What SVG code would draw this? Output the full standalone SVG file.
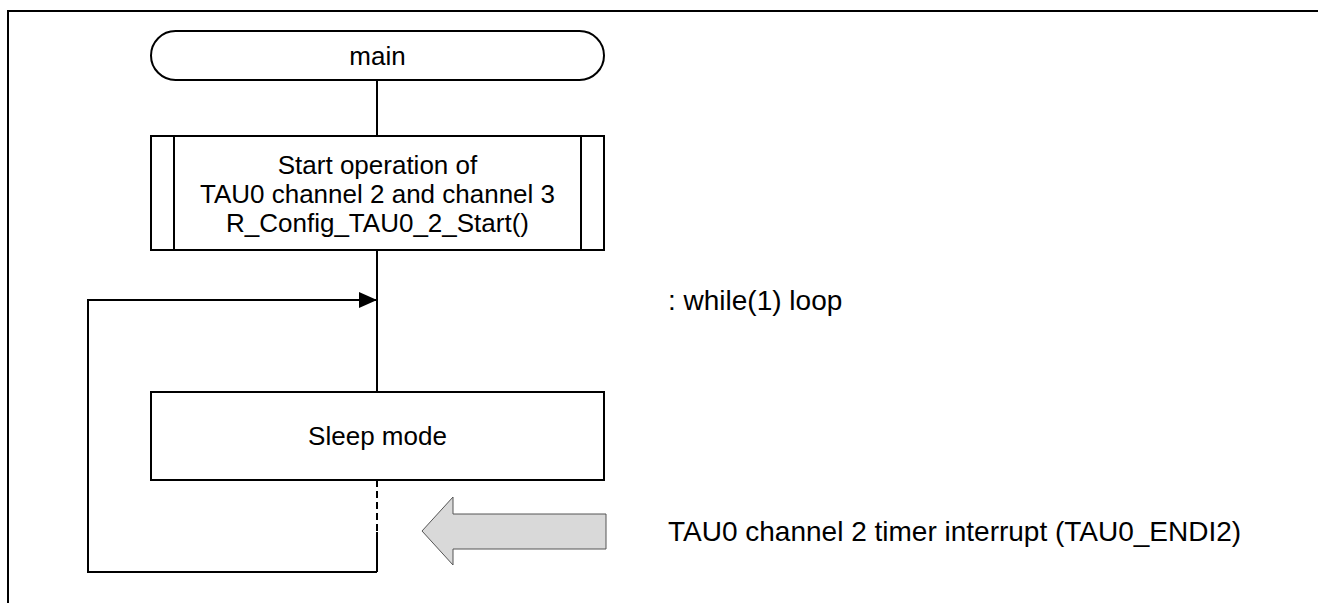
<svg xmlns="http://www.w3.org/2000/svg" width="1318" height="603" viewBox="0 0 1318 603">
<style>
.s{fill:#fff;stroke:#000;stroke-width:2}
.l{fill:none;stroke:#000;stroke-width:2}
.t{font-family:"Liberation Sans",Arial,sans-serif;font-size:26px;fill:#000}
.r{font-size:28px}
.c{text-anchor:middle}
</style>
<defs>
<marker id="ah" markerWidth="18" markerHeight="16" refX="18" refY="8" orient="auto" markerUnits="userSpaceOnUse" viewBox="0 0 18 16">
<path d="M0,0 L18,8 L0,16 Z" fill="#000"/>
</marker>
</defs>
<rect x="0" y="0" width="1318" height="603" fill="#fff"/>
<path d="M8,603 V11 H1318" class="l"/>
<g id="connectors">
<line x1="377" y1="80" x2="377" y2="136" class="l"/>
<line x1="377" y1="250" x2="377" y2="392" class="l"/>
<path d="M377,572 H88 V300 H377" class="l" marker-end="url(#ah)"/>
<line x1="377" y1="480" x2="377" y2="532" class="l" stroke-dasharray="7,4"/>
<line x1="377" y1="532" x2="377" y2="572" class="l"/>
</g>
<g id="main">
<rect x="151" y="31" width="453" height="49" rx="24.5" class="s"/>
<text x="377.5" y="65" class="t c">main</text>
</g>
<g id="start">
<rect x="151" y="136" width="453" height="114" class="s"/>
<line x1="174" y1="136" x2="174" y2="250" class="l"/>
<line x1="581" y1="136" x2="581" y2="250" class="l"/>
<text class="t c"><tspan x="377.5" y="174">Start operation of</tspan><tspan x="377.5" y="203">TAU0 channel 2 and channel 3</tspan><tspan x="377.5" y="232">R_Config_TAU0_2_Start()</tspan></text>
</g>
<g id="sleep">
<rect x="151" y="392" width="453" height="88" class="s"/>
<text x="377.5" y="445" class="t c">Sleep mode</text>
</g>
<g id="loop-label">
<text x="668" y="310" class="t r">: while(1) loop</text>
</g>
<g id="interrupt">
<path d="M422,531 L453,497 V514 H606 V549 H453 V565 Z" fill="#d9d9d9" stroke="#555" stroke-width="1"/>
<text x="668" y="541" class="t r">TAU0 channel 2 timer interrupt (TAU0_ENDI2)</text>
</g>
</svg>
